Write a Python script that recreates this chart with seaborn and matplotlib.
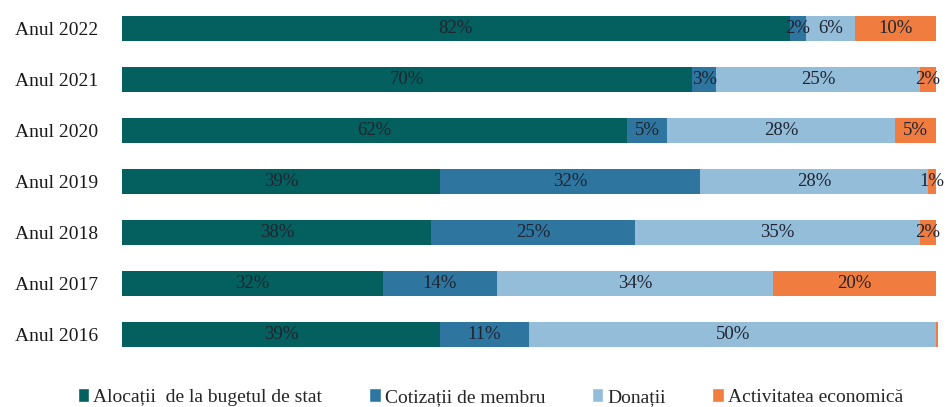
import matplotlib
matplotlib.use("Agg")
import matplotlib.pyplot as plt
import numpy as np
import pandas as pd
import seaborn as sns
from matplotlib.patches import Patch

# data (percent of total funding)
years = ["Anul 2022", "Anul 2021", "Anul 2020", "Anul 2019", "Anul 2018", "Anul 2017", "Anul 2016"]
alocatii = [82, 70, 62, 39, 38, 32, 39]
cotizatii = [2, 3, 5, 32, 25, 14, 11]
donatii = [6, 25, 28, 28, 35, 34, 50]
activitate = [10, 2, 5, 1, 2, 20, 0.3]

series_names = [
    "Alocații  de la bugetul de stat",
    "Cotizații de membru",
    "Donații",
    "Activitatea economică",
]
colors = ["#03605f", "#2e76a0", "#94bdd9", "#f07c3f"]

sns.set_theme(style="white")
plt.rcParams["font.family"] = ["Liberation Serif", "DejaVu Serif"]

df = pd.DataFrame(
    {
        "year": years,
        series_names[0]: alocatii,
        series_names[1]: cotizatii,
        series_names[2]: donatii,
        series_names[3]: activitate,
    }
)
cum = df[series_names].cumsum(axis=1)

fig = plt.figure(figsize=(9.47, 4.07), dpi=100)
ax = fig.add_axes([0.129, 0.1155, 0.862, 0.877])

# stacked bars drawn as overlapping cumulative totals, widest first
for name, color in reversed(list(zip(series_names, colors))):
    sns.barplot(
        x=cum[name],
        y=df["year"],
        orient="h",
        color=color,
        width=0.49,
        saturation=1,
        linewidth=0,
        ax=ax,
    )

for i in range(len(df)):
    left = 0
    for name in series_names:
        val = df.loc[i, name]
        if val >= 0.5:
            ax.text(left + val / 2, i, f"{val:.0f}%", ha="center", va="center",
                    fontsize=13.5, color="#1f2430")
        left += val

ax.set_xlim(0, cum.iloc[:, -1].max())
ax.set_ylim(6.5, -0.5)
ax.set_xlabel("")
ax.set_ylabel("")
ax.set_xticks([])
ax.tick_params(axis="y", length=0, labelsize=14, labelcolor="#1a1a1a", pad=17)
sns.despine(ax=ax, left=True, bottom=True)

handles = [Patch(facecolor=c, label=n) for n, c in zip(series_names, colors)]
fig.legend(
    handles=handles,
    loc="lower center",
    bbox_to_anchor=(0.518, -0.04),
    ncol=4,
    frameon=False,
    fontsize=14,
    handlelength=0.6,
    handleheight=0.7,
    handletextpad=0.2,
    columnspacing=2.4,
)

fig.savefig("out.png", dpi=100)
